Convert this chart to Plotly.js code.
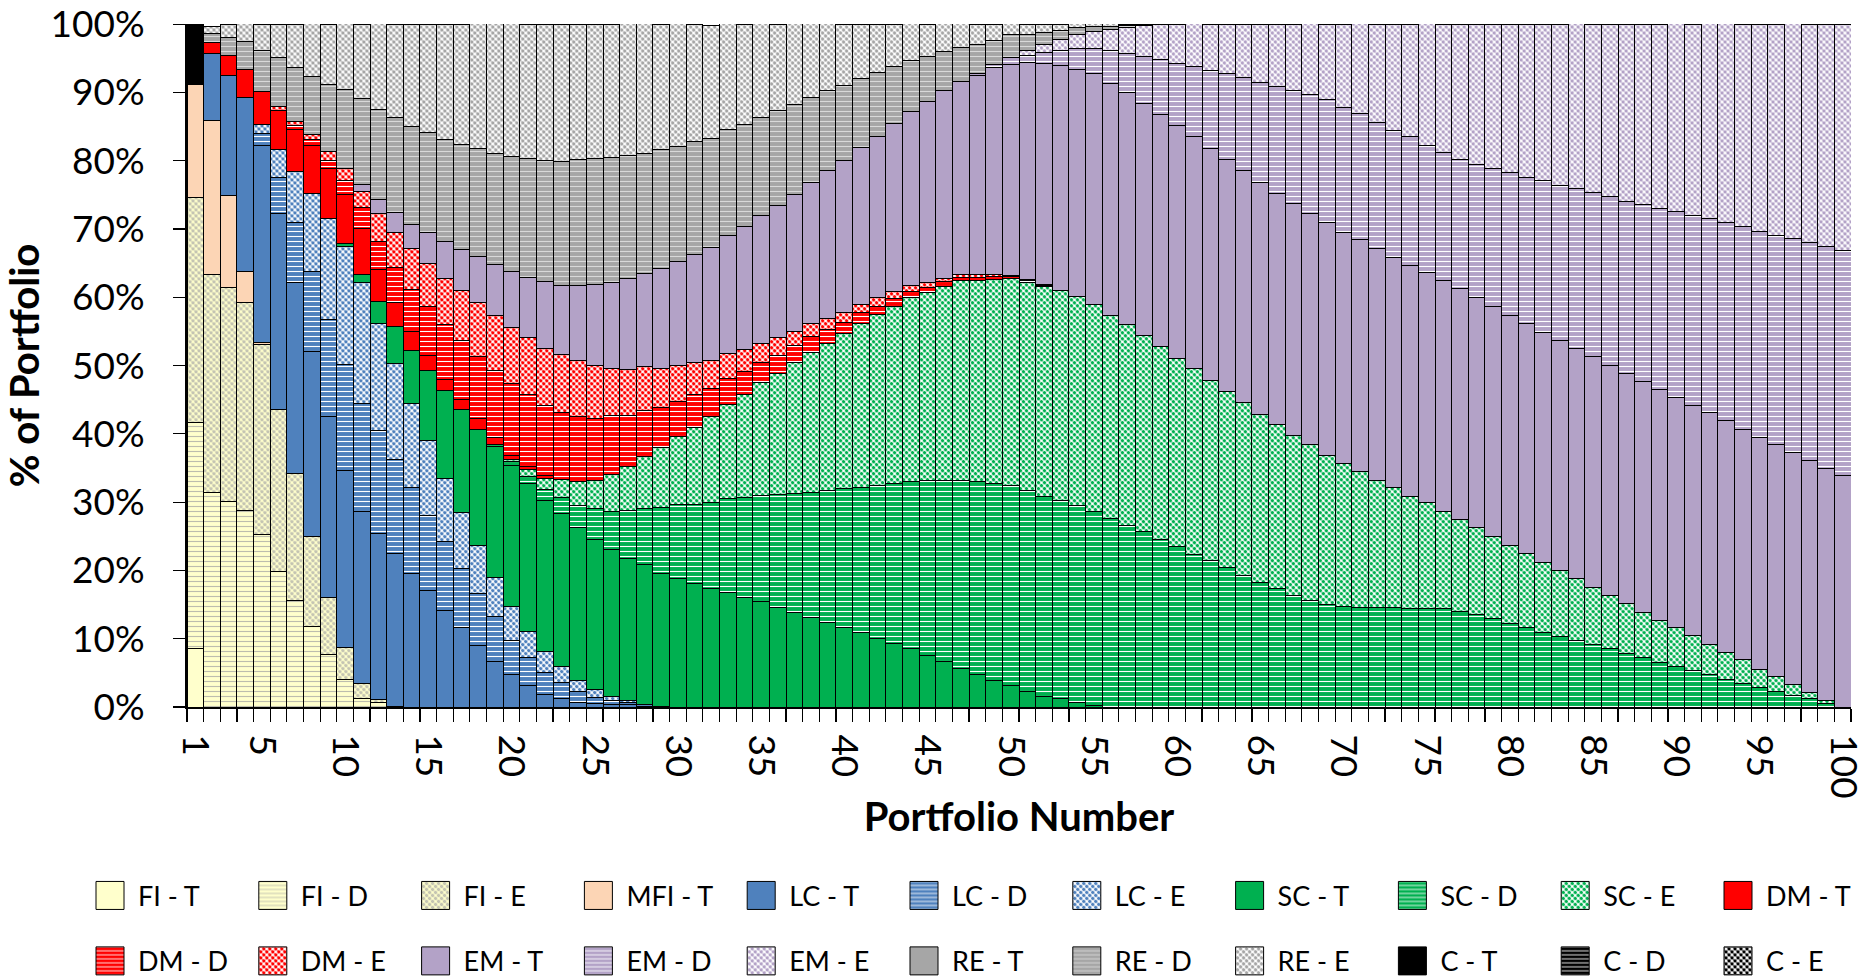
<!DOCTYPE html>
<html>
<head>
<meta charset="utf-8">
<script src="https://cdn.plot.ly/plotly-3.0.1.min.js"></script>
<style>
  html, body { margin: 0; padding: 0; background: #ffffff; }
  #chart { width: 1875px; height: 978px; }
</style>
</head>
<body>
<div id="chart"></div>
<script>
// Portfolio numbers along the x axis
const portfolios = [
  1,2,3,4,5,6,7,8,9,10, 11,12,13,14,15,16,17,18,19,20,
  21,22,23,24,25,26,27,28,29,30, 31,32,33,34,35,36,37,38,39,40,
  41,42,43,44,45,46,47,48,49,50, 51,52,53,54,55,56,57,58,59,60,
  61,62,63,64,65,66,67,68,69,70, 71,72,73,74,75,76,77,78,79,80,
  81,82,83,84,85,86,87,88,89,90, 91,92,93,94,95,96,97,98,99,100
];
const xTickVals = [1,5,10,15,20,25,30,35,40,45,50,55,60,65,70,75,80,85,90,95,100];
const xTickText = ['1','5','10','15','20','25','30','35','40','45','50','55','60','65','70','75','80','85','90','95','100'];
const yTickVals = [0,10,20,30,40,50,60,70,80,90,100];
const yTickText = ['0%','10%','20%','30%','40%','50%','60%','70%','80%','90%','100%'];

// Allocation (% of portfolio) per asset sleeve, portfolios 1..100
const FI_T = [
  8.6,0,0,0,0,0,0,0,0,0, 0,0,0,0,0,0,0,0,0,0, 0,0,0,0,0,0,0,0,0,0, 0,0,0,0,0,0,0,0,0,0,
  0,0,0,0,0,0,0,0,0,0, 0,0,0,0,0,0,0,0,0,0, 0,0,0,0,0,0,0,0,0,0, 0,0,0,0,0,0,0,0,0,0,
  0,0,0,0,0,0,0,0,0,0, 0,0,0,0,0,0,0,0,0,0
];
const FI_D = [
  33.1,31.4,30.1,28.8,25.2,19.8,15.6,11.8,7.7,4.1, 1.3,0.65,0,0,0,0,0,0,0,0,
  0,0,0,0,0,0,0,0,0,0, 0,0,0,0,0,0,0,0,0,0, 0,0,0,0,0,0,0,0,0,0, 0,0,0,0,0,0,0,0,0,0,
  0,0,0,0,0,0,0,0,0,0, 0,0,0,0,0,0,0,0,0,0, 0,0,0,0,0,0,0,0,0,0, 0,0,0,0,0,0,0,0,0,0
];
const FI_E = [
  32.9,32.0,31.4,30.4,27.9,23.8,18.6,13.2,8.3,4.6, 2.2,0.5,0.1,0,0,0,0,0,0,0,
  0,0,0,0,0,0,0,0,0,0, 0,0,0,0,0,0,0,0,0,0, 0,0,0,0,0,0,0,0,0,0, 0,0,0,0,0,0,0,0,0,0,
  0,0,0,0,0,0,0,0,0,0, 0,0,0,0,0,0,0,0,0,0, 0,0,0,0,0,0,0,0,0,0, 0,0,0,0,0,0,0,0,0,0
];
const MFI_T = [
  16.5,22.5,13.4,4.6,0.3,0,0,0,0,0, 0,0,0,0,0,0,0,0,0,0,
  0,0,0,0,0,0,0,0,0,0, 0,0,0,0,0,0,0,0,0,0, 0,0,0,0,0,0,0,0,0,0, 0,0,0,0,0,0,0,0,0,0,
  0,0,0,0,0,0,0,0,0,0, 0,0,0,0,0,0,0,0,0,0, 0,0,0,0,0,0,0,0,0,0, 0,0,0,0,0,0,0,0,0,0
];
const LC_T = [
  0,9.8,17.6,25.4,28.8,28.6,27.9,27.0,26.6,25.9, 25.1,24.3,22.4,19.6,17.0,14.2,11.6,9.0,6.7,4.7,
  3.1,1.8,1.2,0.65,0.5,0.3,0.3,0.1,0.05,0, 0,0,0,0,0,0,0,0,0,0,
  0,0,0,0,0,0,0,0,0,0, 0,0,0,0,0,0,0,0,0,0, 0,0,0,0,0,0,0,0,0,0, 0,0,0,0,0,0,0,0,0,0,
  0,0,0,0,0,0,0,0,0,0, 0,0,0,0,0,0,0,0,0,0
];
const LC_D = [
  0,0,0,0,1.8,5.4,8.8,11.8,14.1,15.5, 15.9,15.0,13.7,12.5,11.1,10.0,8.7,7.6,6.5,5.1,
  4.2,3.2,2.4,1.6,0.9,0.65,0.35,0.2,0.05,0, 0,0,0,0,0,0,0,0,0,0,
  0,0,0,0,0,0,0,0,0,0, 0,0,0,0,0,0,0,0,0,0, 0,0,0,0,0,0,0,0,0,0, 0,0,0,0,0,0,0,0,0,0,
  0,0,0,0,0,0,0,0,0,0, 0,0,0,0,0,0,0,0,0,0
];
const LC_E = [
  0,0,0,0,1.3,4.1,7.5,11.4,14.8,17.3, 17.6,15.7,14.1,12.4,10.9,9.3,8.2,7.0,5.8,4.9,
  3.8,3.1,2.3,1.6,1.2,0.65,0.3,0.1,0,0, 0,0,0,0,0,0,0,0,0,0,
  0,0,0,0,0,0,0,0,0,0, 0,0,0,0,0,0,0,0,0,0, 0,0,0,0,0,0,0,0,0,0, 0,0,0,0,0,0,0,0,0,0,
  0,0,0,0,0,0,0,0,0,0, 0,0,0,0,0,0,0,0,0,0
];
const SC_T = [
  0,0,0,0,0,0,0,0,0,0.5, 1.3,3.3,5.4,7.7,10.3,12.9,15.0,17.1,19.1,20.6,
  21.6,22.2,22.5,22.4,22.0,21.4,20.8,20.4,19.5,18.8, 18.1,17.3,16.7,16.0,15.4,14.6,13.9,13.1,12.4,11.6,
  10.9,10.1,9.3,8.6,7.6,6.7,5.7,4.8,3.9,3.1, 2.3,1.6,1.2,0.65,0.2,0,0,0,0,0,
  0,0,0,0,0,0,0,0,0,0, 0,0,0,0,0,0,0,0,0,0, 0,0,0,0,0,0,0,0,0,0, 0,0,0,0,0,0,0,0,0,0
];
const SC_D = [
  0,0,0,0,0,0,0,0,0,0, 0,0,0,0,0,0,0,0,0.4,0.65,
  1.1,1.5,2.3,3.3,4.4,5.7,7.0,8.2,9.6,10.8, 11.6,12.7,13.9,14.7,15.6,16.5,17.3,18.3,19.3,20.4,
  21.3,22.4,23.5,24.4,25.5,26.5,27.5,28.2,28.8,29.3, 29.4,29.3,29.1,28.8,28.4,27.6,26.6,25.7,24.6,23.5,
  22.4,21.4,20.4,19.3,18.3,17.3,16.3,15.6,15.0,14.7, 14.6,14.5,14.5,14.4,14.4,14.4,14.05,13.6,12.9,12.3,
  11.6,10.9,10.3,9.8,9.15,8.5,7.8,7.2,6.5,6.0, 5.4,4.8,4.1,3.5,2.9,2.3,1.75,1.2,0.5,0
];
const SC_E = [
  0,0,0,0,0,0,0,0,0,0, 0,0,0,0,0,0,0,0,0,0.3,
  1.0,1.6,2.6,3.5,4.2,5.4,6.5,7.7,8.8,10.0, 11.3,12.5,13.7,15.0,16.5,17.8,19.2,20.5,21.6,22.7,
  23.9,25.0,25.9,26.9,27.6,28.4,29.2,29.4,29.9,30.4, 30.5,30.7,30.7,30.6,30.3,29.8,29.4,28.7,28.2,27.6,
  27.1,26.4,25.8,25.3,24.6,24.05,23.5,22.8,21.9,20.9, 19.9,18.7,17.6,16.5,15.5,14.2,13.4,12.7,12.1,11.4,
  10.9,10.3,9.7,9.0,8.4,7.8,7.3,6.7,6.2,5.6, 5.0,4.4,3.9,3.4,2.6,2.15,1.5,0.9,0.45,0
];
const DM_T = [
  0,1.6,2.9,4.2,4.9,5.7,6.2,7.1,7.3,7.2, 6.7,4.6,3.5,2.8,2.2,1.6,1.6,1.5,1.0,0.65,
  0.4,0.45,0,0,0,0,0,0,0,0, 0,0,0,0,0,0,0,0,0,0,
  0,0,0,0,0,0,0,0,0,0, 0,0,0,0,0,0,0,0,0,0, 0,0,0,0,0,0,0,0,0,0, 0,0,0,0,0,0,0,0,0,0,
  0,0,0,0,0,0,0,0,0,0, 0,0,0,0,0,0,0,0,0,0
];
const DM_D = [
  0,0,0,0,0,0,0.5,0.8,1.3,2.0, 3.0,4.1,5.2,6.2,7.2,8.0,8.5,9.2,9.8,10.5,
  10.5,10.3,9.8,9.5,9.0,8.6,7.5,6.7,5.9,5.2, 4.7,4.2,3.8,3.4,2.9,2.6,2.5,2.3,2.0,1.6,
  1.6,1.2,1.1,1.0,0.8,0.65,0.45,0.5,0.45,0.25, 0.2,0.1,0,0,0,0,0,0,0,0,
  0,0,0,0,0,0,0,0,0,0, 0,0,0,0,0,0,0,0,0,0, 0,0,0,0,0,0,0,0,0,0, 0,0,0,0,0,0,0,0,0,0
];
const DM_E = [
  0,0,0,0,0,0.5,0.6,0.8,1.2,1.8, 2.4,4.1,5.1,5.9,6.2,6.8,7.4,7.8,8.1,8.2,
  8.4,8.4,8.5,8.2,7.8,6.9,6.7,6.4,5.7,5.2, 4.7,4.1,3.6,3.3,2.8,2.6,2.1,1.9,1.6,1.5,
  1.3,1.2,1.1,0.85,0.7,0.5,0.45,0.45,0.35,0.2, 0.2,0.1,0,0,0,0,0,0,0,0,
  0,0,0,0,0,0,0,0,0,0, 0,0,0,0,0,0,0,0,0,0, 0,0,0,0,0,0,0,0,0,0, 0,0,0,0,0,0,0,0,0,0
];
const EM_T = [
  0,0,0,0,0,0,0,0,0,0, 1.0,2.0,2.9,3.6,4.6,5.4,6.0,6.7,7.4,8.2,
  8.8,9.7,10.1,11.0,11.8,12.5,13.3,13.7,14.6,15.2, 15.8,16.5,17.3,18.0,18.8,19.3,20.1,20.7,21.6,22.2,
  22.9,23.7,24.5,25.4,26.4,27.5,28.3,29.1,30.2,30.8, 31.8,32.5,33.0,33.3,33.8,33.9,34.0,34.0,34.0,34.0,
  34.05,34.05,34.0,34.0,33.9,33.9,33.9,33.9,34.0,33.9, 33.9,33.9,33.7,33.8,33.7,33.8,33.8,33.7,33.6,33.7,
  33.7,33.7,33.7,33.7,33.8,33.7,33.7,33.8,33.8,33.7, 33.7,33.9,33.9,33.8,34.0,34.0,34.0,34.0,34.0,33.85
];
const EM_D = [
  0,0,0,0,0,0,0,0,0,0, 0,0,0,0,0,0,0,0,0,0, 0,0,0,0,0,0,0,0,0,0, 0,0,0,0,0,0,0,0,0,0,
  0,0,0,0,0,0,0,0.3,0.5,1.1, 1.0,1.6,2.2,3.1,3.8,4.8,5.75,6.9,8.0,9.15,
  10.3,11.4,12.6,13.6,14.7,15.6,16.6,17.45,18.0,18.3, 18.5,18.5,18.6,18.8,18.7,18.8,19.0,19.5,20.3,20.9,
  21.4,22.2,22.7,23.5,24.05,24.8,25.3,25.9,26.5,27.3, 27.9,28.4,29.1,29.6,30.1,30.65,31.4,31.9,32.5,33.0
];
const EM_E = [
  0,0,0,0,0,0,0,0,0,0, 0,0,0,0,0,0,0,0,0,0, 0,0,0,0,0,0,0,0,0,0, 0,0,0,0,0,0,0,0,0,0,
  0,0,0,0,0,0,0,0,0,0, 0.7,1.1,1.5,2.0,2.4,3.1,3.7,4.5,5.2,5.7,
  6.2,6.7,7.2,7.8,8.5,9.15,9.7,10.3,11.1,12.2, 13.2,14.4,15.6,16.5,17.8,18.8,19.7,20.5,21.0,21.7,
  22.4,22.9,23.5,24.05,24.6,25.2,25.8,26.3,26.9,27.45, 28.0,28.6,29.1,29.7,30.4,30.9,31.4,32.0,32.55,33.15
];
const RE_T = [
  0,0,0,0,0,0,0,0,0,0, 0,0,0,0,0,0,0,0,0,0, 0,0,0,0,0,0,0,0,0,0, 0,0,0,0,0,0,0,0,0,0,
  0,0,0,0,0,0,0,0,0,0, 0,0,0,0,0,0,0,0,0,0, 0,0,0,0,0,0,0,0,0,0, 0,0,0,0,0,0,0,0,0,0,
  0,0,0,0,0,0,0,0,0,0, 0,0,0,0,0,0,0,0,0,0
];
const RE_D = [
  0,1.3,2.7,4.0,5.9,7.2,8.0,8.5,9.9,11.6, 12.6,13.3,13.9,14.3,14.6,14.9,15.4,15.9,16.3,16.8,
  17.4,17.8,18.2,18.4,18.5,18.3,18.0,17.6,17.5,16.9, 16.6,16.0,15.5,14.9,14.4,13.9,13.2,12.5,11.8,11.0,
  10.1,9.3,8.4,7.5,6.6,5.75,5.0,4.25,3.5,3.3, 2.4,1.8,1.3,1.0,0.7,0.45,0.3,0,0,0,
  0,0,0,0,0,0,0,0,0,0, 0,0,0,0,0,0,0,0,0,0, 0,0,0,0,0,0,0,0,0,0, 0,0,0,0,0,0,0,0,0,0
];
const RE_E = [
  0,1.1,1.8,2.7,3.9,4.9,6.2,7.7,8.7,9.7, 10.9,12.5,13.7,14.9,15.9,16.8,17.6,18.3,19.0,19.5,
  19.7,19.9,20.1,19.8,19.6,19.5,19.3,19.0,18.3,18.0, 17.2,16.5,15.6,14.7,13.7,12.7,11.8,10.8,9.8,9.0,
  8.0,7.1,6.2,5.4,4.7,4.05,3.5,2.9,2.4,1.6, 1.4,1.2,1.0,0.65,0.45,0.4,0.2,0.2,0.1,0,
  0,0,0,0,0,0,0,0,0,0, 0,0,0,0,0,0,0,0,0,0, 0,0,0,0,0,0,0,0,0,0, 0,0,0,0,0,0,0,0,0,0
];
const C_T = [
  8.8,0,0,0,0,0,0,0,0,0, 0,0,0,0,0,0,0,0,0,0, 0,0,0,0,0,0,0,0,0,0, 0,0,0,0,0,0,0,0,0,0,
  0,0,0,0,0,0,0,0,0,0, 0,0,0,0,0,0,0,0,0,0, 0,0,0,0,0,0,0,0,0,0, 0,0,0,0,0,0,0,0,0,0,
  0,0,0,0,0,0,0,0,0,0, 0,0,0,0,0,0,0,0,0,0
];
const C_D = RE_T.slice();
const C_E = RE_T.slice();

const seriesNames = [
  'FI - T','FI - D','FI - E','MFI - T','LC - T','LC - D','LC - E','SC - T','SC - D','SC - E','DM - T',
  'DM - D','DM - E','EM - T','EM - D','EM - E','RE - T','RE - D','RE - E','C - T','C - D','C - E'
];
const seriesValues = [
  FI_T, FI_D, FI_E, MFI_T, LC_T, LC_D, LC_E, SC_T, SC_D, SC_E, DM_T,
  DM_D, DM_E, EM_T, EM_D, EM_E, RE_T, RE_D, RE_E, C_T, C_D, C_E
];

// Fill styles: T = solid, D = narrow horizontal stripes, E = fine checker
const solid = (c) => ({ color: c });
const striped = (bg, fg) => ({
  color: bg,
  pattern: { shape: '-', bgcolor: bg, fgcolor: fg, size: 5, solidity: 0.22, fillmode: 'replace' }
});
const checker = (bg, fg) => ({
  color: fg,
  pattern: { shape: '.', bgcolor: bg, fgcolor: fg, size: 4.24, solidity: 0.55, fillmode: 'replace' }
});

const FI = '#FFFFCC', MFI = '#FCD5B5', LC = '#4F81BD', SC = '#00B050',
      DM = '#FF0000', EM = '#B3A2C7', RE = '#A6A6A6', CASH = '#000000', W = '#FFFFFF';

const fills = [
  solid(FI), striped(FI, '#BDBDAE'), checker(FI, '#C4C4B2'),
  solid(MFI),
  solid(LC), striped(LC, W), checker(W, LC),
  solid(SC), striped(SC, W), checker(W, SC),
  solid(DM), striped(DM, W), checker(W, DM),
  solid(EM), striped(EM, W), checker(W, EM),
  solid(RE), striped(RE, '#D9D9D9'), checker(W, '#A6A6A6'),
  solid(CASH), striped(CASH, W), checker(W, CASH)
];

const traces = seriesNames.map((name, i) => ({
  type: 'bar',
  name: name,
  x: portfolios,
  y: seriesValues[i].map(v => (v === 0 ? null : v)),
  width: 1,
  legend: i < 11 ? 'legend' : 'legend2',
  marker: Object.assign({}, fills[i], { line: { color: '#000000', width: 1 } }),
  hoverinfo: 'name+y'
}));

const FONT = 'Lato, "Liberation Sans", Arial, sans-serif';

const legendCommon = {
  orientation: 'h',
  xref: 'paper', yref: 'paper',
  x: -0.0631, xanchor: 'left',
  yanchor: 'top',
  traceorder: 'normal',
  font: { family: FONT, size: 27, color: '#000000' },
  itemwidth: 46,
  entrywidth: 101.8,
  entrywidthmode: 'pixels',
  bgcolor: 'rgba(0,0,0,0)',
  itemclick: false, itemdoubleclick: false
};

const layout = {
  width: 1875,
  height: 978,
  margin: { l: 187, r: 24, t: 24, b: 270.5, autoexpand: false },
  paper_bgcolor: '#FFFFFF',
  plot_bgcolor: '#FFFFFF',
  barmode: 'stack',
  bargap: 0,
  showlegend: true,
  font: { family: FONT, color: '#000000' },
  xaxis: {
    range: [0.5, 100.5],
    tickmode: 'array',
    tickvals: xTickVals,
    ticktext: xTickText,
    tickangle: 90,
    ticks: '',
    ticklabelstandoff: 18,
    tickfont: { family: FONT, size: 37, color: '#000000' },
    showline: true, linecolor: '#000000', linewidth: 2,
    showgrid: false, zeroline: false,
    minor: { tickmode: 'linear', tick0: 0.5, dtick: 1, ticks: 'outside', ticklen: 13, tickwidth: 1.2, tickcolor: '#000000', showgrid: false },
    title: { text: 'Portfolio Number', font: { family: FONT, size: 40, color: '#000000', weight: 'bold' }, standoff: 5 }
  },
  yaxis: {
    range: [0, 100.02],
    tickmode: 'array',
    tickvals: yTickVals,
    ticktext: yTickText,
    ticks: 'outside', ticklen: 12, tickwidth: 1.2, tickcolor: '#000000',
    ticklabelstandoff: 21,
    ticklabeloverflow: 'allow',
    tickfont: { family: FONT, size: 37, color: '#000000' },
    showline: true, linecolor: '#000000', linewidth: 2,
    showgrid: false, zeroline: false,
    title: { text: '% of Portfolio', font: { family: FONT, size: 40, color: '#000000', weight: 'bold' }, standoff: 14 }
  },
  legend: Object.assign({}, legendCommon, { y: -0.2407 }),
  legend2: Object.assign({}, legendCommon, { y: -0.3365 })
};

const gd = document.getElementById('chart');

// Square legend swatches; dot fills laid out on a diagonal lattice so they read as a checkerboard
function finishStyling() {
  gd.querySelectorAll('g.legendpoints path').forEach(p => {
    p.setAttribute('d', 'M14,14H-14V-14H14Z');
  });
  gd.querySelectorAll('pattern').forEach(pt => {
    if (pt.querySelector('circle')) pt.setAttribute('patternTransform', 'rotate(45)');
  });
}

Plotly.newPlot(gd, traces, layout, { displayModeBar: false, staticPlot: true }).then(() => {
  finishStyling();
  gd.on && gd.on('plotly_afterplot', finishStyling);
});
</script>
</body>
</html>
